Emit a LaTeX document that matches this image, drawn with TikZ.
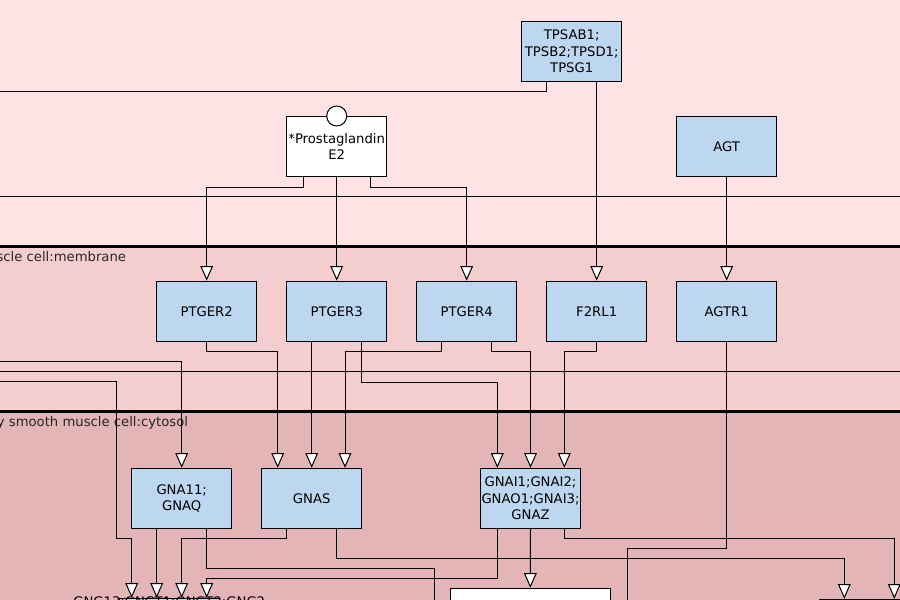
\documentclass[tikz,border=0pt]{standalone}
\usepackage{fontspec}
\setmainfont{DejaVu Sans}
\usetikzlibrary{arrows.meta,calc}

\definecolor{extracell}{RGB}{255,226,228}
\definecolor{membrane}{RGB}{244,206,206}
\definecolor{cytosol}{RGB}{228,181,182}
\definecolor{geneblue}{RGB}{189,215,240}

\tikzset{every picture/.style={line width=0.75pt}}
\tikzset{
	gene/.style={draw, fill=geneblue, minimum width=75pt, minimum height=45pt, inner sep=0pt, align=center, font=\fontsize{9.9}{12.5}\selectfont},
	metabolite/.style={gene, fill=white},
	stim/.style={-{Triangle[length=11pt,width=9.5pt,fill=white]}},
	comptext/.style={anchor=north east, inner sep=0pt, text=black!85, font=\fontsize{9.9}{12.5}\selectfont}
}

\begin{document}
\begin{tikzpicture}[x=0.75pt,y=0.75pt,yscale=-1,xscale=1]
	\useasboundingbox (0,0) rectangle (900,600);
	\clip (0,0) rectangle (900,600);
	
	%Shape: Rectangle [compartments]
	\fill [extracell] (0,0) rectangle (900,246.5);
	\fill [membrane] (0,246.5) rectangle (900,411);
	\fill [cytosol] (0,411) rectangle (900,600);
	%Straight Lines [borders]
	\draw (0,196.3) -- (900,196.3);
	\draw (0,371.3) -- (900,371.3);
	\draw [line width=2.25pt] (0,246.5) -- (900,246.5);
	\draw [line width=2.25pt] (0,411) -- (900,411);
	
	% Text Node
	\node [comptext] (memlabel) at (126.5,250.5) {airway smooth muscle cell:membrane};
	% Text Node
	\node [comptext] (cytlabel) at (188.5,415.5) {airway smooth muscle cell:cytosol};
	
	%Shape: Rectangle [ligands]
	\node [gene] (tpsab) at (571.7,51.5) {TPSAB1;\\TPSB2;TPSD1;\\TPSG1};
	\node [metabolite] (pge) at (336.7,146.5) {*Prostaglandin\\E2};
	\draw [fill=white] (pge.north) circle (10);
	\node [gene] (agt) at (726.7,146.5) {AGT};
	
	%Shape: Rectangle [receptors]
	\node [gene] (ptger2) at (206.7,311.2) {PTGER2};
	\node [gene] (ptger3) at (336.7,311.2) {PTGER3};
	\node [gene] (ptger4) at (466.7,311.2) {PTGER4};
	\node [gene] (f2rl1) at (596.7,311.2) {F2RL1};
	\node [gene] (agtr1) at (726.7,311.2) {AGTR1};
	
	%Shape: Rectangle [G proteins]
	\node [gene] (gnaq) at (181.7,498.3) {GNA11;\\GNAQ};
	\node [gene] (gnas) at (311.7,498.3) {GNAS};
	\node [gene] (gnai) at (530.5,498.3) {GNAI1;GNAI2;\\GNAO1;GNAI3;\\GNAZ};
	\node [gene] (gng) at (169.2,628.3) {};
	\node [anchor=base, inner sep=0pt, font=\fontsize{9.9}{12.5}\selectfont] (gnglabel) at ($(gng.north)+(0,8.5)$) {GNG13;GNGT1;GNGT2;GNG2};
	\node [metabolite, minimum width=120pt] (gbox) at (530.3,618.3) {};
	\node [gene] (rbox) at (869.3,629.3) {};
	
	% free ends
	\coordinate (tpswest) at (-5,91.3);
	\coordinate (westA) at (-5,361.3);
	\coordinate (westB) at (-5,381.7);
	\coordinate (agtrout) at (627.7,610);
	\coordinate (gnaqout) at (434.3,610);
	
	%Straight Lines [extracellular]
	\draw ($(tpsab.south)+(-25,0)$) |- (tpswest);
	\draw [stim] (f2rl1.north |- tpsab.south) -- (f2rl1.north);
	\draw [stim] ($(pge.south)+(-33.4,0)$) -- ++(0,10) -| (ptger2.north);
	\draw [stim] (pge.south) -- (ptger3.north);
	\draw [stim] ($(pge.south)+(34,0)$) -- ++(0,10) -| (ptger4.north);
	\draw [stim] (agt.south) -- (agtr1.north);
	
	%Straight Lines [membrane]
	\draw [stim] (westA) -| (gnaq.north);
	\draw [stim] (westB) -- ++(121.3,0) -- ++(0,156.6) -| ($(gng.north)+(-37.5,0)$);
	\draw [stim] (ptger2.south) -- ++(0,10) -| ($(gnas.north)+(-34,0)$);
	\draw [stim] ($(ptger3.south)+(-25,0)$) -- (gnas.north);
	\draw [stim] ($(ptger4.south)+(-25,0)$) -- ++(0,10) -| ($(gnas.north)+(33.3,0)$);
	\draw [stim] ($(ptger3.south)+(25,0)$) -- ++(0,40.5) -| ($(gnai.north)+(-33.2,0)$);
	\draw [stim] ($(ptger4.south)+(25,0)$) -- ++(0,10) -| (gnai.north);
	\draw [stim] (f2rl1.south) -- ++(0,10) -| ($(gnai.north)+(33.8,0)$);
	\draw (agtr1.south) -- ++(0,207.1) -| (agtrout);
	
	%Straight Lines [cytosol]
	\draw [stim] ($(gnaq.south)+(-25,0)$) -- ($(gng.north)+(-12.5,0)$);
	\draw ($(gnaq.south)+(25,0)$) -- ++(0,40) -| (gnaqout);
	\draw [stim] ($(gnas.south)+(-25,0)$) -- ++(0,10) -| ($(gng.north)+(12.5,0)$);
	\draw [stim] ($(gnas.south)+(25,0)$) -- ++(0,30) -| ($(rbox.north)+(-25,0)$);
	\draw [stim] ($(gnai.south)+(-33.2,0)$) -- ++(0,50) -| ($(gng.north)+(37.5,0)$);
	\draw [stim] (gnai.south) -- (gbox.north);
	\draw [stim] ($(gnai.south)+(33.8,0)$) -- ++(0,10) -| ($(rbox.north)+(25,0)$);
	
\end{tikzpicture}
\end{document}
